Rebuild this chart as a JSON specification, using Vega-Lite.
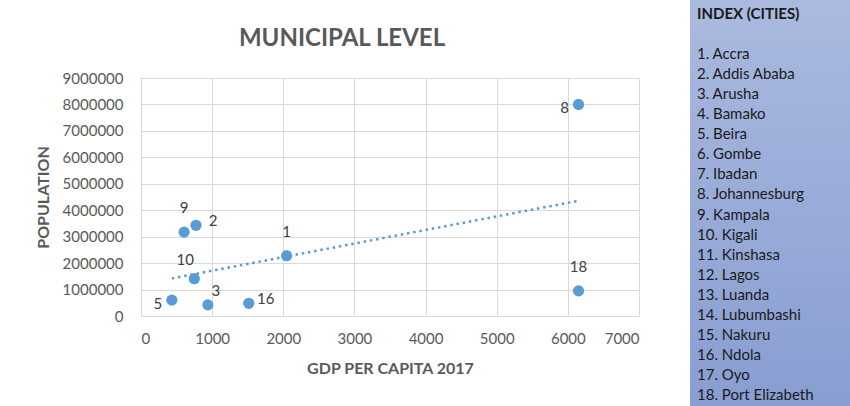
{
  "$schema": "https://vega.github.io/schema/vega-lite/v6.json",
  "background": "white",
  "padding": {"left": 35, "top": 0, "right": 0, "bottom": 0},
  "spacing": 51,
  "config": {
    "view": {"stroke": null},
    "font": "Lato",
    "axis": {
      "labelFont": "Lato", "labelFontSize": 15, "labelColor": "#595959",
      "titleFont": "Lato", "titleFontSize": 16, "titleFontWeight": "bold", "titleColor": "#595959",
      "gridColor": "#d9d9d9", "domainColor": "#d9d9d9", "ticks": false, "tickSize": 0
    }
  },
  "hconcat": [
    {
      "spacing": 26,
      "vconcat": [
        {
          "width": 498,
          "height": 1,
          "data": {"values": []},
          "mark": {"type": "point", "opacity": 0}
        },
        {
          "width": 498,
          "height": 238,
          "title": {
            "text": "MUNICIPAL LEVEL",
            "font": "Lato", "fontSize": 24, "fontWeight": "bold", "color": "#595959",
            "anchor": "middle", "dx": -48, "offset": 20
          },
          "data": {
            "values": [
              {"id": "1", "gdp": 2047, "pop": 2280000},
              {"id": "2", "gdp": 773, "pop": 3430000},
              {"id": "3", "gdp": 940, "pop": 420000},
              {"id": "5", "gdp": 433, "pop": 600000},
              {"id": "8", "gdp": 6150, "pop": 8000000},
              {"id": "9", "gdp": 606, "pop": 3170000},
              {"id": "10", "gdp": 749, "pop": 1410000},
              {"id": "16", "gdp": 1515, "pop": 480000},
              {"id": "18", "gdp": 6150, "pop": 950000}
            ]
          },
          "encoding": {
            "x": {
              "field": "gdp", "type": "quantitative", "title": "GDP PER CAPITA 2017",
              "scale": {"domain": [0, 7000], "nice": false},
              "axis": {"values": [0, 1000, 2000, 3000, 4000, 5000, 6000, 7000], "format": "d", "labelPadding": 15, "titlePadding": 14}
            },
            "y": {
              "field": "pop", "type": "quantitative", "title": "POPULATION",
              "scale": {"domain": [0, 9000000], "nice": false},
              "axis": {"values": [0, 1000000, 2000000, 3000000, 4000000, 5000000, 6000000, 7000000, 8000000, 9000000], "format": "d", "labelPadding": 18, "titlePadding": 11}
            }
          },
          "layer": [
            {
              "transform": [{"regression": "pop", "on": "gdp"}],
              "mark": {"type": "line", "color": "#5b9bd5", "strokeWidth": 2.5, "strokeDash": [2.5, 3.8]}
            },
            {
              "mark": {"type": "circle", "color": "#5b9bd5", "size": 125, "opacity": 1}
            },
            {
              "transform": [{"filter": {"field": "id", "oneOf": ["9", "1", "18"]}}],
              "mark": {"type": "text", "font": "Lato", "fontSize": 15, "color": "#404040", "dy": -24, "align": "center", "baseline": "middle"},
              "encoding": {"text": {"field": "id"}}
            },
            {
              "transform": [{"filter": {"field": "id", "oneOf": ["10"]}}],
              "mark": {"type": "text", "font": "Lato", "fontSize": 15, "color": "#404040", "dx": -9, "dy": -19, "align": "center", "baseline": "middle"},
              "encoding": {"text": {"field": "id"}}
            },
            {
              "transform": [{"filter": {"field": "id", "oneOf": ["2", "16"]}}],
              "mark": {"type": "text", "font": "Lato", "fontSize": 15, "color": "#404040", "dx": 17, "dy": -4, "align": "center", "baseline": "middle"},
              "encoding": {"text": {"field": "id"}}
            },
            {
              "transform": [{"filter": {"field": "id", "oneOf": ["3"]}}],
              "mark": {"type": "text", "font": "Lato", "fontSize": 15, "color": "#404040", "dx": 8, "dy": -14, "align": "center", "baseline": "middle"},
              "encoding": {"text": {"field": "id"}}
            },
            {
              "transform": [{"filter": {"field": "id", "oneOf": ["8", "5"]}}],
              "mark": {"type": "text", "font": "Lato", "fontSize": 15, "color": "#404040", "dx": -14, "dy": 4, "align": "center", "baseline": "middle"},
              "encoding": {"text": {"field": "id"}}
            }
          ]
        }
      ]
    },
    {
      "width": 160,
      "height": 406,
      "view": {
        "stroke": null,
        "fill": {"gradient": "linear", "x1": 0, "y1": 0, "x2": 0, "y2": 1,
          "stops": [{"offset": 0, "color": "#aabadf"}, {"offset": 1, "color": "#889dd1"}]}
      },
      "data": {
        "values": [
          {"line": 0, "label": "INDEX (CITIES)"},
          {"line": 2, "label": "1. Accra"},
          {"line": 3, "label": "2. Addis Ababa"},
          {"line": 4, "label": "3. Arusha"},
          {"line": 5, "label": "4. Bamako"},
          {"line": 6, "label": "5. Beira"},
          {"line": 7, "label": "6. Gombe"},
          {"line": 8, "label": "7. Ibadan"},
          {"line": 9, "label": "8. Johannesburg"},
          {"line": 10, "label": "9. Kampala"},
          {"line": 11, "label": "10. Kigali"},
          {"line": 12, "label": "11. Kinshasa"},
          {"line": 13, "label": "12. Lagos"},
          {"line": 14, "label": "13. Luanda"},
          {"line": 15, "label": "14. Lubumbashi"},
          {"line": 16, "label": "15. Nakuru"},
          {"line": 17, "label": "16. Ndola"},
          {"line": 18, "label": "17. Oyo"},
          {"line": 19, "label": "18. Port Elizabeth"}
        ]
      },
      "encoding": {
        "x": {"datum": 0, "type": "quantitative", "scale": {"domain": [-7, 153]}, "axis": null},
        "y": {"field": "line", "type": "quantitative", "scale": {"domain": [-0.7, 19.55], "reverse": true, "nice": false, "zero": false}, "axis": null},
        "text": {"field": "label"}
      },
      "layer": [
        {
          "transform": [{"filter": "datum.line === 0"}],
          "mark": {"type": "text", "align": "left", "baseline": "middle", "font": "Lato", "fontSize": 15, "fontWeight": "bold", "color": "#1a1a1a"}
        },
        {
          "transform": [{"filter": "datum.line > 0"}],
          "mark": {"type": "text", "align": "left", "baseline": "middle", "font": "Lato", "fontSize": 15, "color": "#1a1a1a"}
        }
      ]
    }
  ]
}
